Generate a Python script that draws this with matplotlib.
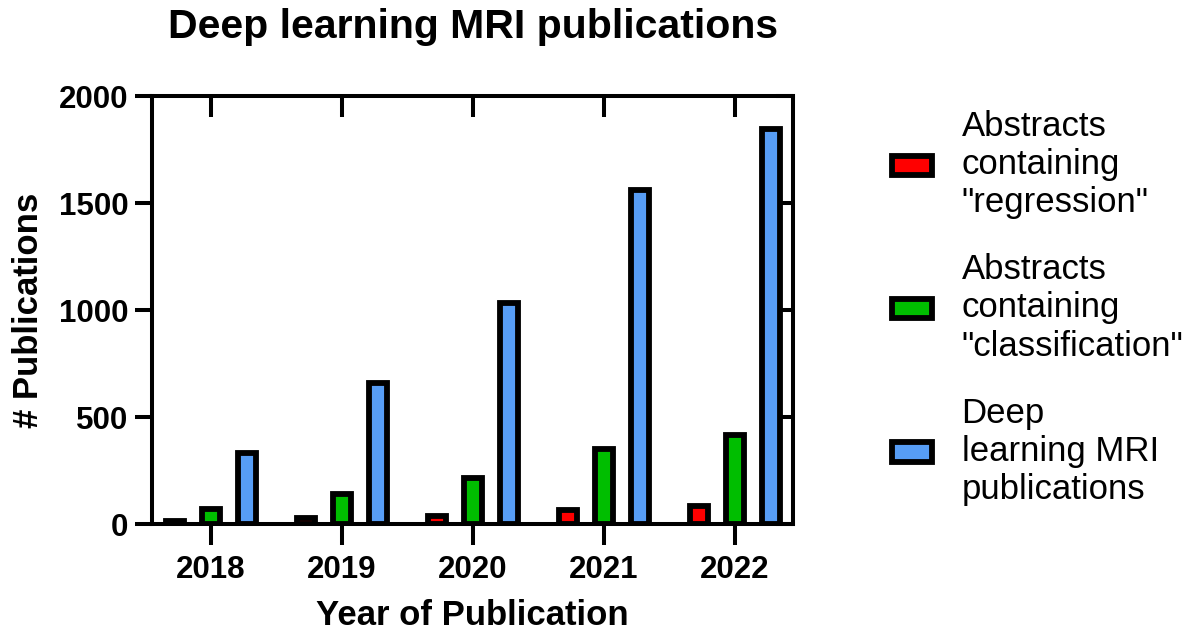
import matplotlib
matplotlib.use('Agg')
import matplotlib.pyplot as plt
import numpy as np

plt.rcParams['font.family'] = ['Liberation Sans', 'DejaVu Sans']

years = ['2018', '2019', '2020', '2021', '2022']
regression = [14, 28, 37, 66, 85]
classification = [70, 141, 216, 352, 418]
dl_mri = [330, 661, 1033, 1561, 1844]

series_labels = [
    'Abstracts\ncontaining\n"regression"',
    'Abstracts\ncontaining\n"classification"',
    'Deep\nlearning MRI\npublications',
]
series_colors = ['#FF0000', '#00BE00', '#579DF5']

fig = plt.figure(figsize=(11.99, 6.35), dpi=100)
ax = fig.add_axes([0.1268, 0.1748, 0.6614 - 0.1268, 0.8488 - 0.1748])

x = np.arange(len(years))
offset = 0.272
width = 0.139
edge_lw = 4.2
for i, (vals, color, label) in enumerate(zip([regression, classification, dl_mri], series_colors, series_labels)):
    ax.bar(x + (i - 1) * offset, vals, width=width, color=color, edgecolor='black',
           linewidth=edge_lw, label=label, zorder=3)

ax.set_xlim(-0.45, 4.443)
ax.set_ylim(0, 2000)
ax.set_yticks([0, 500, 1000, 1500, 2000])
ax.set_xticks(x)
ax.set_xticklabels(years)

for side in ['left', 'right', 'top', 'bottom']:
    ax.spines[side].set_linewidth(2.9)
    ax.spines[side].set_zorder(4)

ax.tick_params(axis='y', which='major', direction='out', length=12, width=2.9,
               labelsize=22.5, pad=5, right=True)
ax.tick_params(axis='x', which='major', direction='out', length=15, width=2.9,
               labelsize=22.5, pad=7, top=True)
for t in ax.xaxis.get_major_ticks():
    t.tick2line.set_marker(3)  # inward on top
for t in ax.yaxis.get_major_ticks():
    t.tick2line.set_marker(0)  # inward on right
for lab in ax.get_xticklabels() + ax.get_yticklabels():
    lab.set_fontweight('bold')

ax.set_xlabel('Year of Publication', fontsize=25, fontweight='bold')
ax.set_ylabel('# Publications', fontsize=25, fontweight='bold')
ax.xaxis.set_label_coords(0.5, -0.213)
ax.yaxis.set_label_coords(-0.193, 0.5)
ax.xaxis.label.set_va('center')
ax.yaxis.label.set_va('center')

ax.set_title('Deep learning MRI publications', fontsize=29.5, fontweight='bold', y=1.135, pad=0)

leg = fig.legend(loc='center left', bbox_to_anchor=(0.744, 0.515), frameon=False,
                 fontsize=25, handlelength=1.15, handleheight=0.47, handletextpad=0.85,
                 labelspacing=0.98, borderpad=0, borderaxespad=0)
for h in leg.legend_handles:
    h.set_linewidth(edge_lw)

fig.savefig('out.png', dpi=100)
